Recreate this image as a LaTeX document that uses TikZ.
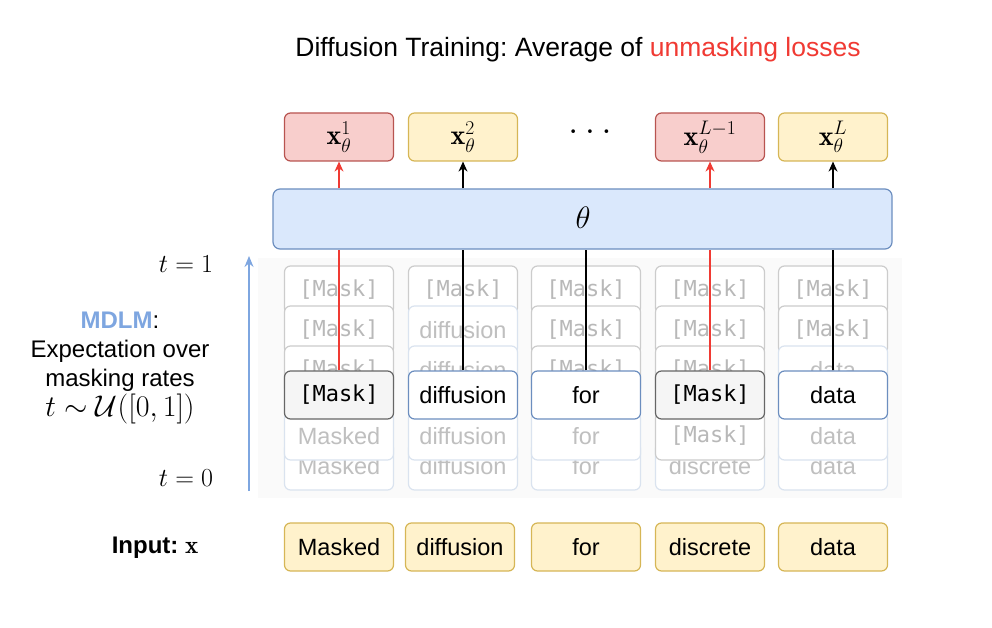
\RequirePackage{fix-cm}
\documentclass[tikz,border=0pt]{standalone}
\usepackage{fontspec}
\usepackage{amsmath}
\newfontfamily\sansf{Liberation Sans}
\newfontfamily\monof{DejaVu Sans Mono}
\usetikzlibrary{arrows.meta}
\definecolor{redF}{HTML}{F8CECC}
\definecolor{redB}{HTML}{B85450}
\definecolor{yelF}{HTML}{FFF2CC}
\definecolor{yelB}{HTML}{D6B656}
\definecolor{bluF}{HTML}{DAE8FC}
\definecolor{bluB}{HTML}{6C8EBF}
\definecolor{grF}{HTML}{F5F5F5}
\definecolor{grB}{HTML}{666666}
\definecolor{lineR}{HTML}{F03A33}
\definecolor{axisB}{HTML}{7EA6E0}
\frenchspacing
\begin{document}
\begin{tikzpicture}[x=1pt,y=-1pt,
  tok/.style={rounded corners=6pt, minimum width=109pt, minimum height=48pt, line width=1.2pt, inner sep=0pt, font=\sansf\fontsize{23.5}{26}\selectfont},
  wordbox/.style={tok, draw=bluB, fill=white},
  maskbox/.style={tok, draw=grB, fill=grF, font=\monof\fontsize{22}{26}\selectfont},
  ghostmask/.style={tok, draw=black!20, fill=white, text=black!28, font=\monof\fontsize{22}{26}\selectfont},
  ghostword/.style={tok, draw=bluB!25, fill=white, text=black!25},
  inbox/.style={tok, draw=yelB, fill=yelF},
  outred/.style={tok, draw=redB, fill=redF, font=\fontsize{28}{30}\selectfont},
  outyel/.style={tok, draw=yelB, fill=yelF, font=\fontsize{28}{30}\selectfont},
  conn/.style={line width=1.3pt},
  arr/.style={conn, -{Stealth[length=10pt,width=9pt]}},
  lbl/.style={font=\sansf\fontsize{24}{29}\selectfont, align=center},
  mth/.style={font=\fontsize{26}{28}\selectfont},
]
\useasboundingbox (0,0) rectangle (992,628);
\fill[black!2] (258,258) rectangle (902,498);

% title
\node[lbl, font=\sansf\fontsize{26.5}{30}\selectfont] (title) at (578,50) {Diffusion Training: Average of \textcolor{lineR}{unmasking losses}};

% outputs
\node[outred] (o1) at (339,137) {$\mathbf{x}_\theta^{1}$};
\node[outyel] (o2) at (463,137) {$\mathbf{x}_\theta^{2}$};
\node[font=\fontsize{38}{40}\selectfont] (dots) at (590,132) {$\ldots$};
\node[outred] (o4) at (710,137) {$\mathbf{x}_\theta^{L-1}$};
\node[outyel] (o5) at (833,137) {$\mathbf{x}_\theta^{L}$};

% theta
\node[rounded corners=7pt, draw=bluB, fill=bluF, line width=1.2pt, minimum width=619pt, minimum height=60pt] (th) at (582.5,219) {};
\node[font=\fontsize{31}{34}\selectfont] (thl) at (583,218) {$\theta$};

% ghost row A
\node[ghostmask] (a1) at (339,290) {[Mask]};
\node[ghostmask] (a2) at (463,290) {[Mask]};
\node[ghostmask] (a3) at (586,290) {[Mask]};
\node[ghostmask] (a4) at (710,290) {[Mask]};
\node[ghostmask] (a5) at (833,290) {[Mask]};
% ghost row B
\node[ghostmask] (b1) at (339,330) {[Mask]};
\node[ghostword] (b2) at (463,330) {diffusion};
\node[ghostmask] (b3) at (586,330) {[Mask]};
\node[ghostmask] (b4) at (710,330) {[Mask]};
\node[ghostmask] (b5) at (833,330) {[Mask]};
% ghost row C
\node[ghostmask] (c1) at (339,370) {[Mask]};
\node[ghostword] (c2) at (463,370) {diffusion};
\node[ghostmask] (c3) at (586,370) {[Mask]};
\node[ghostmask] (c4) at (710,370) {[Mask]};
\node[ghostword] (c5) at (833,370) {data};
% ghost row E
\node[ghostword] (e1) at (339,466) {Masked};
\node[ghostword] (e2) at (463,466) {diffusion};
\node[ghostword] (e3) at (586,466) {for};
\node[ghostword] (e4) at (710,466) {discrete};
\node[ghostword] (e5) at (833,466) {data};
% ghost row D
\node[ghostword] (d1) at (339,436) {Masked};
\node[ghostword] (d2) at (463,436) {diffusion};
\node[ghostword] (d3) at (586,436) {for};
\node[ghostmask] (d4) at (710,436) {[Mask]};
\node[ghostword] (d5) at (833,436) {data};

% main row
\node[maskbox] (m1) at (339,395) {[Mask]};
\node[wordbox] (m2) at (463,395) {diffusion};
\node[wordbox] (m3) at (586,395) {for};
\node[maskbox] (m4) at (710,395) {[Mask]};
\node[wordbox] (m5) at (833,395) {data};

% connectors through ghosts
\draw[conn, lineR] (m1.north) -- (th.south -| m1);
\draw[conn] (m2.north) -- (th.south -| m2);
\draw[conn] (m3.north) -- (th.south -| m3);
\draw[conn, lineR] (m4.north) -- (th.south -| m4);
\draw[conn] (m5.north) -- (th.south -| m5);

% arrows to outputs
\draw[arr, lineR] (th.north -| o1) -- (o1.south);
\draw[arr] (th.north -| o2) -- (o2.south);
\draw[arr, lineR] (th.north -| o4) -- (o4.south);
\draw[arr] (th.north -| o5) -- (o5.south);

% input row
\node[inbox] (i1) at (339,547) {Masked};
\node[inbox] (i2) at (460,547) {diffusion};
\node[inbox] (i3) at (586,547) {for};
\node[inbox] (i4) at (710,547) {discrete};
\node[inbox] (i5) at (833,547) {data};
\node[lbl] (inl) at (155,548) {\bfseries Input: {\fontsize{25}{28}\selectfont$\mathbf{x}$}};

% left axis
\coordinate (ax0) at (249,491);
\coordinate (ax1) at (249,256);
\draw[line width=1.5pt, axisB, -{Stealth[length=11pt,width=9pt]}] (ax0) -- (ax1);
\node[mth] (t1) at (186,264) {$t=1$};
\node[mth] (t0) at (186,478) {$t=0$};
\node[lbl] (mdlm) at (120,368) {{\bfseries\textcolor{axisB}{MDLM}}:\\Expectation over\\masking rates\\[1pt]{\fontsize{30}{30}\selectfont$t\sim\mathcal{U}([0,1])$}};
\end{tikzpicture}
\end{document}
